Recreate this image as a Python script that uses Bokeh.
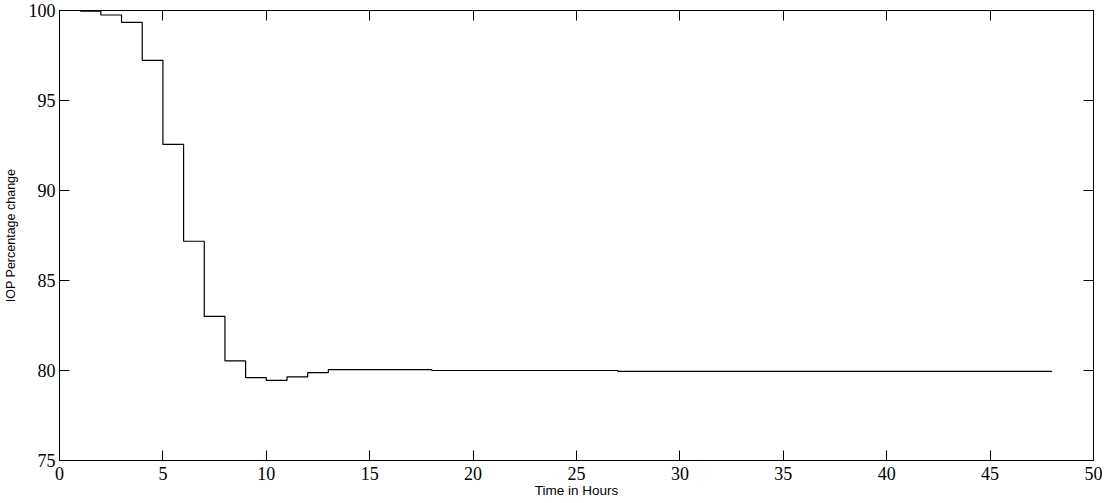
from bokeh.plotting import figure
from bokeh.models import LinearAxis, FixedTicker, Range1d
from bokeh.embed import file_html
from bokeh.resources import INLINE

# Data (step function, value holds until next hour)
hours = [1, 2, 3, 4, 5, 6, 7, 8, 9, 10, 11, 12, 13, 18, 27, 48]
iop_pct = [99.97, 99.75, 99.34, 97.23, 92.56, 87.18, 83.01, 80.54, 79.60,
           79.45, 79.65, 79.88, 80.05, 80.00, 79.95, 79.95]

x_ticks = [0, 5, 10, 15, 20, 25, 30, 35, 40, 45, 50]
y_ticks = [75, 80, 85, 90, 95, 100]

p = figure(output_backend="svg", toolbar_location=None,
           x_range=Range1d(0, 50), y_range=Range1d(75, 100),
           min_border_left=54, min_border_top=10, min_border_right=9,
           min_border_bottom=0)
p.frame_width = 1034
p.frame_height = 450

p.step(hours, iop_pct, mode="after", line_color="black", line_width=1.2)

p.grid.visible = False
p.outline_line_color = "black"
p.outline_line_width = 1
p.background_fill_color = "white"
p.border_fill_color = "white"

for ax, ticks in ((p.xaxis[0], x_ticks), (p.yaxis[0], y_ticks)):
    ax.ticker = FixedTicker(ticks=ticks)
    ax.major_tick_in = 10
    ax.major_tick_out = 0
    ax.minor_tick_line_color = None
    ax.axis_line_color = "black"
    ax.major_tick_line_color = "black"
    ax.major_label_text_font = "Liberation Serif"
    ax.major_label_text_font_size = "18px"
    ax.major_label_text_color = "black"
    ax.axis_label_text_font = "Liberation Sans"
    ax.axis_label_text_font_style = "normal"
    ax.axis_label_text_color = "black"

p.xaxis[0].axis_label = "Time in Hours"
p.xaxis[0].axis_label_text_font_size = "13.5px"
p.xaxis[0].major_label_standoff = 6
p.xaxis[0].axis_label_standoff = 0
p.yaxis[0].axis_label = "IOP Percentage change"
p.yaxis[0].axis_label_text_font_size = "12.5px"
p.yaxis[0].major_label_standoff = 4
p.yaxis[0].axis_label_standoff = 8

top_ax = LinearAxis(ticker=FixedTicker(ticks=x_ticks))
right_ax = LinearAxis(ticker=FixedTicker(ticks=y_ticks))
for ax in (top_ax, right_ax):
    ax.major_tick_in = 10
    ax.major_tick_out = 0
    ax.minor_tick_line_color = None
    ax.axis_line_color = "black"
    ax.major_tick_line_color = "black"
    ax.major_label_text_font_size = "0px"
    ax.major_label_text_color = None
    ax.major_label_standoff = 0
p.add_layout(top_ax, "above")
p.add_layout(right_ax, "right")

open("out.html", "w").write(file_html(p, INLINE))
